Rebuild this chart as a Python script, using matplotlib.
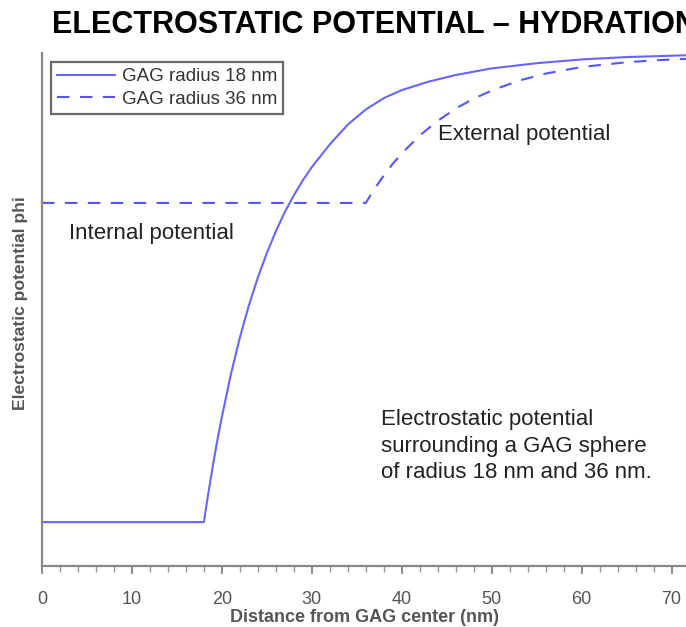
import matplotlib
matplotlib.use("Agg")
import matplotlib.pyplot as plt
from matplotlib.ticker import MultipleLocator

# Data (distance in nm, potential in arbitrary units)
r18 = [0, 18, 18.5, 19, 19.5, 20, 21, 22, 23, 24, 25, 26, 27, 28, 29, 30,
       32, 34, 36, 38, 40, 43, 46, 50, 55, 60, 65, 72]
phi18 = [-100, -100, -93.8, -88.0, -82.6, -77.7, -68.7, -60.9, -54.1, -48.2,
         -43.0, -38.4, -34.3, -30.8, -27.6, -24.8, -20.0, -15.8, -12.6,
         -10.2, -8.5, -6.7, -5.3, -3.9, -2.8, -2.0, -1.5, -1.1]

r36 = [0, 36, 37, 38, 39, 40, 42, 44, 46, 48, 50, 53, 56, 60, 65, 68, 72]
phi36 = [-32.4, -32.4, -29.3, -26.6, -24.1, -21.9, -18.1, -15.0, -12.4,
         -10.3, -8.6, -6.5, -5.0, -3.6, -2.6, -2.2, -1.85]

labels = ["GAG radius 18 nm", "GAG radius 36 nm"]
title = "ELECTROSTATIC POTENTIAL \u2013 HYDRATION"
xticks = [0, 10, 20, 30, 40, 50, 60, 70]

plt.rcParams['font.family'] = ['Liberation Sans', 'DejaVu Sans']

fig = plt.figure(figsize=(6.86, 6.27), dpi=100)
ax = fig.add_axes([42/686, 61/627, 1 - 42/686, (566-53)/627])

ax.plot(r18, phi18, color='#6666ff', lw=1.5, label=labels[0])
ax.plot(r36, phi36, color='#5555ff', lw=1.5, ls=(0, (6, 5)), label=labels[1])

ax.set_xlim(0, 71.6)
ax.set_ylim(-109.3, -0.64)

for s in ['top', 'right']:
    ax.spines[s].set_visible(False)
for s in ['left', 'bottom']:
    ax.spines[s].set_color('#888888')
    ax.spines[s].set_linewidth(1.6)

ax.set_yticks([])
ax.set_xticks(xticks)
ax.xaxis.set_minor_locator(MultipleLocator(2))
ax.tick_params(axis='x', which='major', length=6, width=1.2, color='#777777',
               labelsize=13, labelcolor='#555555', pad=12)
ax.tick_params(axis='x', which='minor', length=4, width=1.0, color='#999999')

ax.set_xlabel("Distance from GAG center (nm)", fontsize=13, fontweight='bold',
              color='#555555', labelpad=1)
ax.set_ylabel("Electrostatic potential phi", fontsize=12.6, fontweight='bold',
              color='#555555')
ax.yaxis.set_label_coords(-0.021, 0.512)

leg = ax.legend(loc='upper left', bbox_to_anchor=(9/644, 1 - 9/513), fontsize=13.5,
                frameon=True, fancybox=False, borderaxespad=0, handlelength=3.1,
                labelspacing=0.28, borderpad=0.32, handletextpad=0.35)
leg.get_frame().set_edgecolor('#444444')
leg.get_frame().set_linewidth(1.6)
for t in leg.get_texts():
    t.set_color('#333333')

fig.text(52/686, 1 - 25/627, title, fontsize=22, fontweight='bold',
         va='center', ha='left', color='black')

ax.text(44.0, -18.0, "External potential", fontsize=16, va='center',
        ha='left', color='#222222')
ax.text(3.0, -38.8, "Internal potential", fontsize=16, va='center', ha='left',
        color='#222222')
ax.text(37.7, -83.9, "Electrostatic potential\nsurrounding a GAG sphere\nof radius 18 nm and 36 nm.",
        fontsize=16, va='center', ha='left', color='#222222', linespacing=1.36)

fig.savefig("out.png", dpi=100)
